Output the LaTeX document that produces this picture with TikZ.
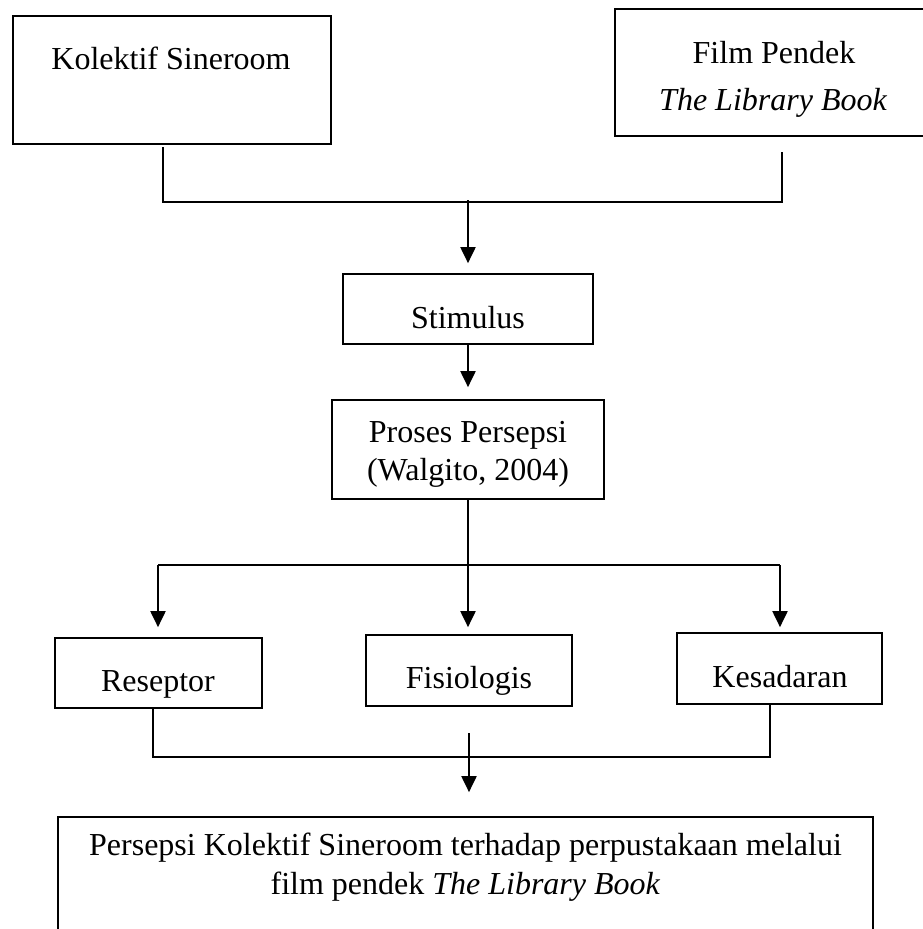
\documentclass[tikz,border=0pt]{standalone}
\usepackage{fontspec}
\setmainfont{Liberation Serif}
\usetikzlibrary{arrows.meta}
\begin{document}
\begin{tikzpicture}[x=1pt,y=-1pt,
  box/.style={draw=black,line width=1.7pt,rectangle,inner sep=0pt},
  txt/.style={anchor=base,inner sep=0pt,font=\fontsize{32}{38}\selectfont},
  conn/.style={draw=black,line width=1.6pt},
  arr/.style={draw=black,line width=2pt,-{Triangle[length=16pt,width=15pt]}}]
\useasboundingbox[fill=white] (0,0) rectangle (923,929);
% boxes
\node[box,minimum width=318pt,minimum height=128pt] (kol) at (172,80) {};
\node[box,minimum width=316pt,minimum height=127pt] (fil) at (773,72.5) {};
\node[box,minimum width=250pt,minimum height=70pt] (stim) at (468,309) {};
\node[box,minimum width=272pt,minimum height=99pt] (pro) at (468,449.5) {};
\node[box,minimum width=207pt,minimum height=70pt] (res) at (158.5,673) {};
\node[box,minimum width=206pt,minimum height=71pt] (fis) at (469,670.5) {};
\node[box,minimum width=205pt,minimum height=71pt] (kes) at (779.5,668.5) {};
\node[box,minimum width=815pt,minimum height=140pt] (per) at (465.5,887) {};
% texts
\node[txt] (kolt) at (171,69) {Kolektif Sineroom};
\node[txt] (filt1) at (774,63) {Film Pendek};
\node[txt] (filt2) at (773,110) {\itshape The Library Book};
\node[txt] (stimt) at (468,328) {Stimulus};
\node[txt] (prot1) at (468,442) {Proses Persepsi};
\node[txt] (prot2) at (468,480) {(Walgito, 2004)};
\node[txt] (rest) at (158,691) {Reseptor};
\node[txt] (fist) at (469,688) {Fisiologis};
\node[txt] (kest) at (780,687) {Kesadaran};
\node[txt] (pert1) at (465.5,855) {Persepsi Kolektif Sineroom terhadap perpustakaan melalui};
\node[txt] (pert2) at (465.5,894) {film pendek \textit{The Library Book}};
% junction coordinates
\coordinate (kolA) at (163,147);
\coordinate (filA) at (782,152);
\coordinate (j1) at (468,202);
\coordinate (j1s) at (468,200);
\coordinate (j2) at (468,565);
\coordinate (resA) at (158,565);
\coordinate (kesA) at (780,565);
\coordinate (resB) at (153,708);
\coordinate (kesB) at (770,704);
\coordinate (j3) at (469,757);
\coordinate (j3s) at (469,733);
% connectors
\draw[conn] (kolA) |- (j1) -| (filA);
\draw[arr,shorten >=10pt] (j1s) -- (stim.north);
\draw[arr,shorten >=12pt] (stim.south) -- (pro.north);
\draw[conn] (pro.south) -- (j2);
\draw[conn] (resA) -- (kesA);
\draw[arr,shorten >=10pt] (resA) -- (res.north -| resA);
\draw[arr,shorten >=7pt] (j2) -- (fis.north -| j2);
\draw[arr,shorten >=5pt] (kesA) -- (kes.north -| kesA);
\draw[conn] (resB) |- (j3) -| (kesB);
\draw[arr,shorten >=24pt] (j3s) -- (per.north -| j3s);
\end{tikzpicture}
\end{document}
